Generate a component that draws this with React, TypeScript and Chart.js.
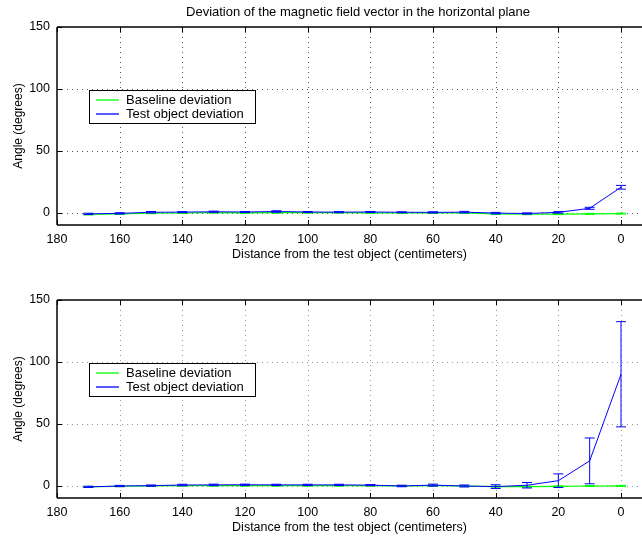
import React, { useEffect, useRef } from "react";
import { Chart, registerables } from "chart.js";

Chart.register(...registerables);

// Measurement positions (cm from the test object)
const distances = [170, 160, 150, 140, 130, 120, 110, 100, 90, 80, 70, 60, 50, 40, 30, 20, 10, 0];
const xTicks = [180, 160, 140, 120, 100, 80, 60, 40, 20, 0];
const yTicks = [0, 50, 100, 150];

// Upper panel
const topBaseline = [-1.5, -1, -0.5, -0.3, 0, -0.2, 0, 0, 0, -0.2, -0.3, -0.2, -0.3, -1, -1.3, -1.2, -1, -0.8];
const topBaselineErr = [0.4, 0.4, 0.4, 0.4, 0.4, 0.4, 0.4, 0.4, 0.4, 0.4, 0.4, 0.4, 0.4, 0.4, 0.4, 0.4, 0.4, 0.4];
const topTest = [-1, -0.6, 0.3, 0.4, 0.7, 0.5, 0.9, 0.5, 0.4, 0.5, 0.3, 0.2, 0.4, -0.4, -0.7, 0.2, 3.5, 20.5];
const topTestErr = [0.5, 0.5, 0.6, 0.4, 0.5, 0.4, 0.6, 0.4, 0.4, 0.4, 0.4, 0.5, 0.6, 0.6, 0.5, 0.6, 0.8, 1.5];

// Lower panel
const bottomBaseline = [-1, -0.5, -0.2, 0, 0, 0, 0, 0, 0, 0, -0.2, 0, -0.3, -0.8, -0.8, -0.6, -0.3, -0.2];
const bottomBaselineErr = [0.4, 0.4, 0.4, 0.4, 0.4, 0.4, 0.4, 0.4, 0.4, 0.4, 0.4, 0.4, 0.4, 0.4, 0.4, 0.4, 0.4, 0.4];
const bottomTest = [-1, -0.3, 0, 0.5, 0.6, 0.7, 0.6, 0.6, 0.6, 0.4, -0.3, 0.4, -0.3, -0.8, 0.3, 4, 20, 90];
const bottomTestErr = [0.5, 0.5, 0.5, 0.6, 0.6, 0.5, 0.5, 0.5, 0.5, 0.5, 0.6, 0.8, 0.8, 1.5, 2.2, 5.5, 18.5, 42.5];

const TITLE = "Deviation of the magnetic field vector in the horizontal plane";
const X_LABEL = "Distance from the test object (centimeters)";
const Y_LABEL = "Angle (degrees)";
const BASELINE_LABEL = "Baseline deviation";
const TEST_LABEL = "Test object deviation";

const FONT_FAMILY = "'Liberation Sans', Arial, Helvetica, sans-serif";
const TICK_SIZE = 12.5;
const LABEL_SIZE = 12.5;
const TITLE_SIZE = 13;
const LEGEND_SIZE = 13;
const GREEN = "rgb(0, 255, 0)";
const BLUE = "rgb(0, 0, 255)";

const legendEntries = [
  { label: BASELINE_LABEL, color: GREEN },
  { label: TEST_LABEL, color: BLUE },
];

type PanelConfig = {
  height: number;
  title: boolean;
  areaTop: number;
  areaBottom: number;
  xTitleBottomPad: number;
  gridColor: string;
  baseline: number[];
  baselineErr: number[];
  test: number[];
  testErr: number[];
};

const line = (ctx: CanvasRenderingContext2D, x1: number, y1: number, x2: number, y2: number) => {
  ctx.beginPath();
  ctx.moveTo(x1, y1);
  ctx.lineTo(x2, y2);
  ctx.stroke();
};

// Dotted grid under the data
const gridPlugin = {
  id: "dottedGrid",
  beforeDatasetsDraw(chart: any, _args: any, opts: any) {
    const { ctx, chartArea: a, scales } = chart;
    const x = scales.x;
    const y = scales.y;
    ctx.save();
    ctx.strokeStyle = opts.color;
    ctx.lineWidth = 1;
    ctx.setLineDash([1, 4]);
    for (const v of xTicks) {
      const px = Math.round(x.getPixelForValue(v)) + 0.5;
      if (px <= a.left + 2) continue;
      line(ctx, px, a.top, px, a.bottom);
    }
    for (const v of yTicks) {
      const py = Math.round(y.getPixelForValue(v)) + 0.5;
      if (py <= a.top + 2) continue;
      line(ctx, a.left, py, a.right, py);
    }
    ctx.restore();
  },
};

// Axes box with inward tick marks
const boxPlugin = {
  id: "axesBox",
  afterDatasetsDraw(chart: any) {
    const { ctx, chartArea: a, scales } = chart;
    const x = scales.x;
    const y = scales.y;
    const tick = 5;
    ctx.save();
    ctx.strokeStyle = "#000";
    ctx.lineWidth = 1.5;
    ctx.setLineDash([]);
    line(ctx, a.left, a.top, a.right, a.top);
    line(ctx, a.left, a.top, a.left, a.bottom);
    line(ctx, a.left, a.bottom, a.right, a.bottom);
    ctx.lineWidth = 1;
    for (const v of xTicks) {
      const px = Math.round(x.getPixelForValue(v)) + 0.5;
      line(ctx, px, a.bottom, px, a.bottom - tick);
      line(ctx, px, a.top, px, a.top + tick);
    }
    for (const v of yTicks) {
      const py = Math.round(y.getPixelForValue(v)) + 0.5;
      line(ctx, a.left, py, a.left + tick, py);
    }
    ctx.restore();
  },
};

// Vertical error bars with caps, drawn with each dataset
const errorBarPlugin = {
  id: "errorBars",
  afterDatasetDraw(chart: any, args: any) {
    const ds = chart.data.datasets[args.index];
    const errs: number[] | undefined = ds.errors;
    if (!errs) return;
    const { ctx, scales } = chart;
    const x = scales.x;
    const y = scales.y;
    const cap = 5;
    ctx.save();
    ctx.strokeStyle = ds.barColor;
    ctx.lineWidth = 1;
    ds.data.forEach((p: { x: number; y: number }, i: number) => {
      const px = x.getPixelForValue(p.x);
      const hi = y.getPixelForValue(p.y + errs[i]);
      const lo = y.getPixelForValue(p.y - errs[i]);
      line(ctx, px, hi, px, lo);
      line(ctx, px - cap, hi, px + cap, hi);
      line(ctx, px - cap, lo, px + cap, lo);
    });
    ctx.restore();
  },
};

// Boxed legend inside the axes, plus the figure title
const legendPlugin = {
  id: "boxLegend",
  afterDraw(chart: any, _args: any, opts: any) {
    const { ctx, chartArea: a } = chart;
    ctx.save();
    ctx.setLineDash([]);
    if (opts.title) {
      ctx.fillStyle = "#000";
      ctx.font = `${TITLE_SIZE}px ${FONT_FAMILY}`;
      ctx.textAlign = "center";
      ctx.textBaseline = "middle";
      ctx.fillText(TITLE, a.left + 301, 12);
    }
    const left = Math.round(a.left + 32);
    const top = Math.round(a.top + 63);
    const w = 166;
    const h = 33;
    ctx.fillStyle = "#fff";
    ctx.fillRect(left, top, w, h);
    ctx.strokeStyle = "#000";
    ctx.lineWidth = 1;
    ctx.strokeRect(left + 0.5, top + 0.5, w, h);
    legendEntries.forEach((entry, i) => {
      const cy = top + 10 + i * 14;
      ctx.strokeStyle = entry.color;
      ctx.lineWidth = 1.3;
      line(ctx, left + 7, cy, left + 30, cy);
      ctx.fillStyle = "#000";
      ctx.font = `${LEGEND_SIZE}px ${FONT_FAMILY}`;
      ctx.textBaseline = "middle";
      ctx.textAlign = "left";
      ctx.fillText(entry.label, left + 37, cy);
    });
    ctx.restore();
  },
};

function Panel({ cfg }: { cfg: PanelConfig }) {
  const ref = useRef<HTMLCanvasElement>(null);

  useEffect(() => {
    const tickFont = { family: FONT_FAMILY, size: TICK_SIZE };
    const labelFont = { family: FONT_FAMILY, size: LABEL_SIZE };
    const chart = new Chart(ref.current as HTMLCanvasElement, {
      type: "line",
      data: {
        datasets: [
          {
            label: TEST_LABEL,
            data: distances.map((d, i) => ({ x: d, y: cfg.test[i] })),
            borderColor: BLUE,
            barColor: BLUE,
            borderWidth: 1,
            pointRadius: 0,
            tension: 0,
            order: 0,
            errors: cfg.testErr,
          } as any,
          {
            label: BASELINE_LABEL,
            data: distances.map((d, i) => ({ x: d, y: cfg.baseline[i] })),
            borderColor: GREEN,
            barColor: GREEN,
            borderWidth: 1.2,
            pointRadius: 0,
            tension: 0,
            order: 1,
            errors: cfg.baselineErr,
          } as any,
        ],
      },
      options: {
        animation: false,
        responsive: false,
        devicePixelRatio: 1,
        events: [],
        layout: { padding: { left: 0, right: 0, top: cfg.areaTop, bottom: 0 } },
        plugins: {
          legend: { display: false },
          tooltip: { enabled: false },
          title: { display: false },
          dottedGrid: { color: cfg.gridColor },
          boxLegend: { title: cfg.title },
        } as any,
        scales: {
          x: {
            type: "linear",
            reverse: true,
            min: -6.7,
            max: 180,
            grid: { display: false, drawTicks: false, tickLength: 0 },
            border: { display: false },
            ticks: { font: tickFont, color: "#000", padding: 7, maxRotation: 0, autoSkip: false },
            title: {
              display: true,
              text: X_LABEL,
              color: "#000",
              font: labelFont,
              padding: { top: 0, bottom: cfg.xTitleBottomPad },
            },
            afterBuildTicks: (s: any) => {
              s.ticks = xTicks.map((value) => ({ value }));
            },
            afterFit: (s: any) => {
              s.height = cfg.height - cfg.areaBottom;
            },
          },
          y: {
            type: "linear",
            min: -10,
            max: 150,
            grid: { display: false, drawTicks: false, tickLength: 0 },
            border: { display: false },
            ticks: { font: tickFont, color: "#000", padding: 7 },
            title: {
              display: true,
              text: Y_LABEL,
              color: "#000",
              font: { family: FONT_FAMILY, size: 12 },
              padding: { top: 11, bottom: 0 },
            },
            afterBuildTicks: (s: any) => {
              s.ticks = yTicks.map((value) => ({ value }));
            },
            afterFit: (s: any) => {
              s.width = 57;
            },
          },
        },
      },
      plugins: [gridPlugin, boxPlugin, errorBarPlugin, legendPlugin],
    });
    return () => chart.destroy();
  }, [cfg]);

  return (
    <canvas
      ref={ref}
      width={642}
      height={cfg.height}
      style={{ display: "block", width: 642, height: cfg.height }}
    />
  );
}

const upperPanel: PanelConfig = {
  height: 268,
  title: true,
  areaTop: 27,
  areaBottom: 225,
  xTitleBottomPad: 5.5,
  gridColor: "#555",
  baseline: topBaseline,
  baselineErr: topBaselineErr,
  test: topTest,
  testErr: topTestErr,
};

const lowerPanel: PanelConfig = {
  height: 268,
  title: false,
  areaTop: 32,
  areaBottom: 230,
  xTitleBottomPad: 0.5,
  gridColor: "#999",
  baseline: bottomBaseline,
  baselineErr: bottomBaselineErr,
  test: bottomTest,
  testErr: bottomTestErr,
};

export default function App() {
  return (
    <div style={{ position: "absolute", left: 0, top: 0, width: 642, height: 536, background: "#fff" }}>
      <Panel cfg={upperPanel} />
      <Panel cfg={lowerPanel} />
    </div>
  );
}
